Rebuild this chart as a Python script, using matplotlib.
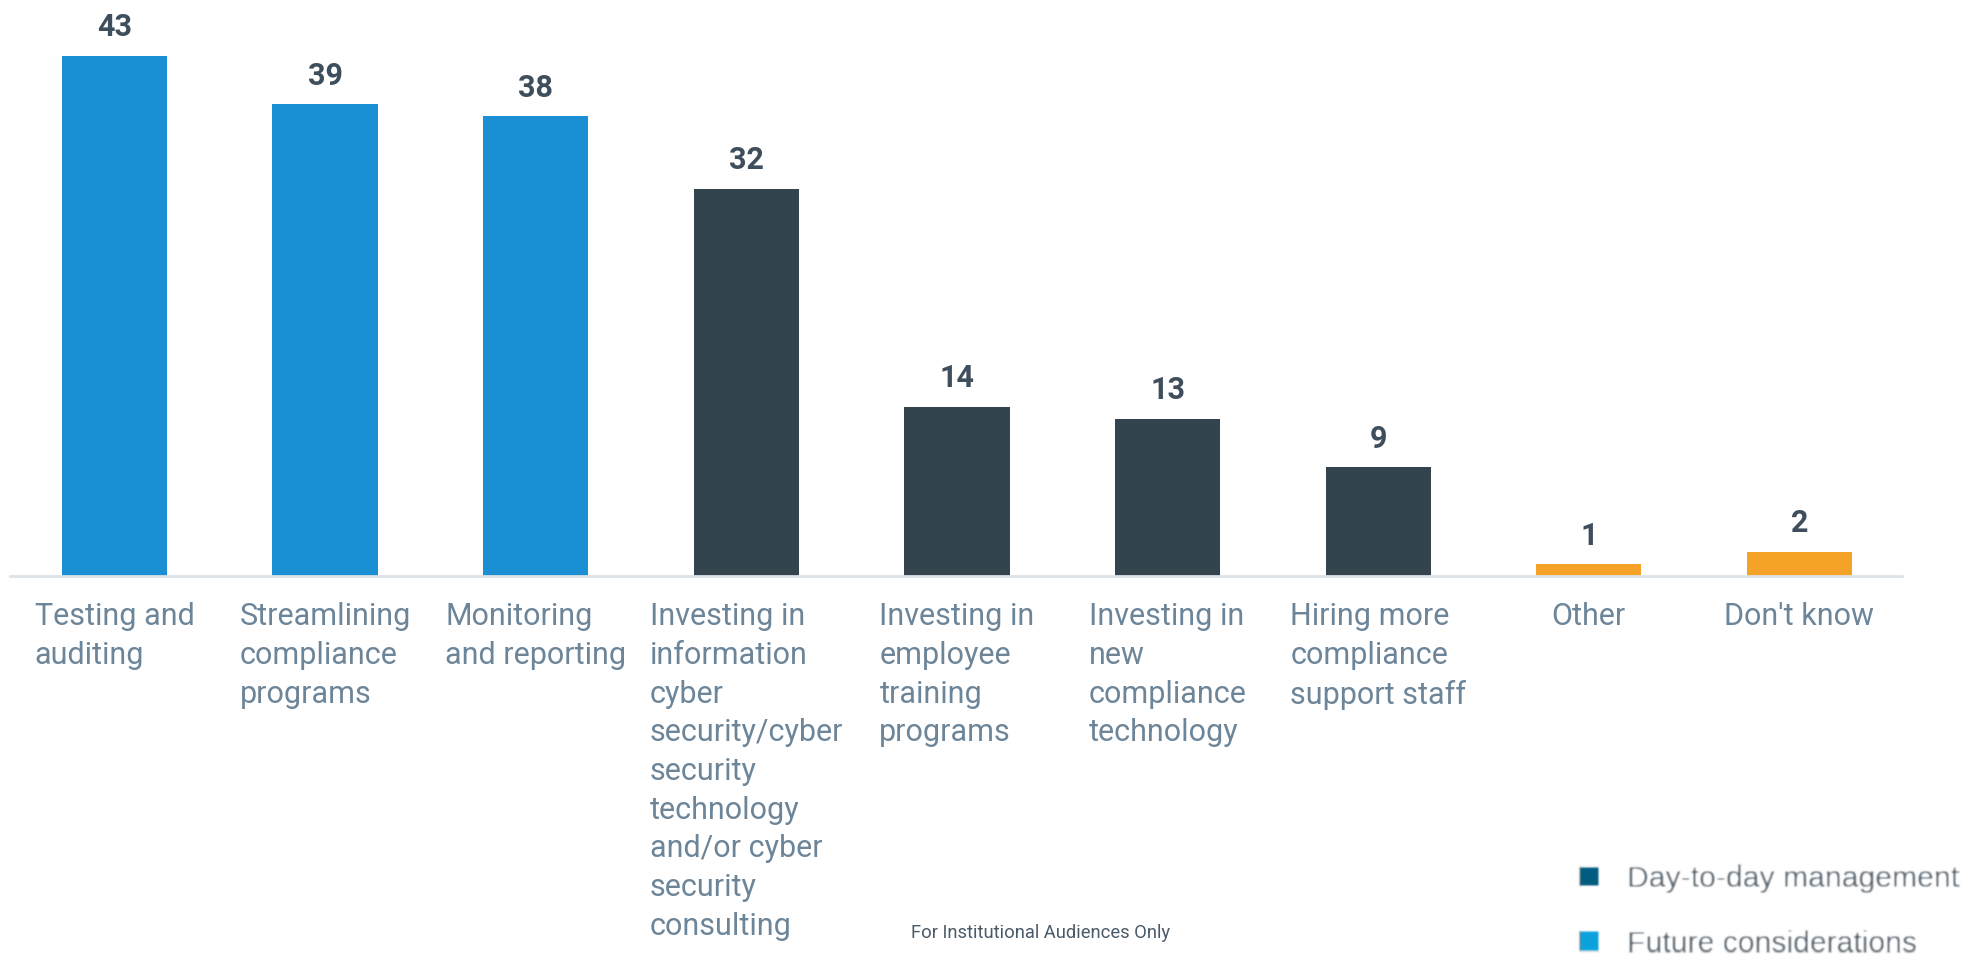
import matplotlib
matplotlib.use("Agg")
import numpy as np
import matplotlib.pyplot as plt
from matplotlib.patches import Patch

# Survey responses (%)
categories = [
    "Testing and\nauditing",
    "Streamlining\ncompliance\nprograms",
    "Monitoring\nand reporting",
    "Investing in\ninformation\ncyber\nsecurity/cyber\nsecurity\ntechnology\nand/or cyber\nsecurity\nconsulting",
    "Investing in\nemployee\ntraining\nprograms",
    "Investing in\nnew\ncompliance\ntechnology",
    "Hiring more\ncompliance\nsupport staff",
    "Other",
    "Don't know",
]
values = [43, 39, 38, 32, 14, 13, 9, 1, 2]
groups = ["future", "future", "future", "day", "day", "day", "day", "other", "other"]

legend_labels = ["Day-to-day management", "Future considerations"]

bar_colors = {"future": "#1B8FD4", "day": "#34444F", "other": "#F5A328"}
legend_colors = ["#005C80", "#0AA2DE"]

LABEL_COLOR = "#6C8599"
VALUE_COLOR = "#3E4E5C"


def soft_blur(sigma_px):
    """agg_filter that softens an artist with a separable Gaussian."""
    r = int(np.ceil(3 * sigma_px))
    k = np.exp(-0.5 * (np.arange(-r, r + 1) / sigma_px) ** 2)
    k /= k.sum()

    def _filter(img, dpi):
        pad = np.pad(img, ((r, r), (r, r), (0, 0)), mode="constant")
        out = np.apply_along_axis(lambda m: np.convolve(m, k, mode="same"), 0, pad)
        out = np.apply_along_axis(lambda m: np.convolve(m, k, mode="same"), 1, out)
        return out, -r, -r

    return _filter


fig = plt.figure(figsize=(19.71, 9.58), dpi=100)
ax = fig.add_axes([0.0051, 0.3987, 0.9600, 0.5684])

x = list(range(len(values)))
bars = ax.bar(x, values, width=0.5,
              color=[bar_colors[g] for g in groups], zorder=2)

ax.set_xlim(-0.496, 8.488)
ax.set_ylim(0, 45)

for rect, v in zip(bars, values):
    ax.annotate(str(v), (rect.get_x() + rect.get_width() / 2, rect.get_height()),
                xytext=(0, 14), textcoords="offset points",
                ha="center", va="baseline", fontsize=22, fontweight="bold",
                family="Roboto", color=VALUE_COLOR)

for s in ["top", "right", "left"]:
    ax.spines[s].set_visible(False)
ax.spines["bottom"].set_color("#DDE3E8")
ax.spines["bottom"].set_linewidth(2)
ax.set_yticks([])
ax.set_xticks(x)
ax.set_xticklabels(categories, fontsize=22, family="Roboto", color=LABEL_COLOR,
                   ha="center", multialignment="left", linespacing=1.42)
ax.tick_params(axis="x", length=0, pad=19)

fig.text(1041 / 1971, 1 - 933 / 958, "For Institutional Audiences Only",
         ha="center", va="center", fontsize=13.2, family="Roboto", color="#4A5A68")

handles = [Patch(facecolor=c, edgecolor="none") for c in legend_colors]
leg = fig.legend(handles, legend_labels, loc="upper left",
                 bbox_to_anchor=(1580 / 1971, 1 - 865 / 958),
                 frameon=False, borderpad=0, borderaxespad=0,
                 handlelength=0.62, handleheight=0.62, handletextpad=0.95,
                 labelspacing=1.22, prop={"family": "Liberation Sans", "size": 21.7})
for t in leg.get_texts():
    t.set_color("#4F5B65")
leg.set_agg_filter(soft_blur(1.0))

fig.savefig("out.png", dpi=100)
